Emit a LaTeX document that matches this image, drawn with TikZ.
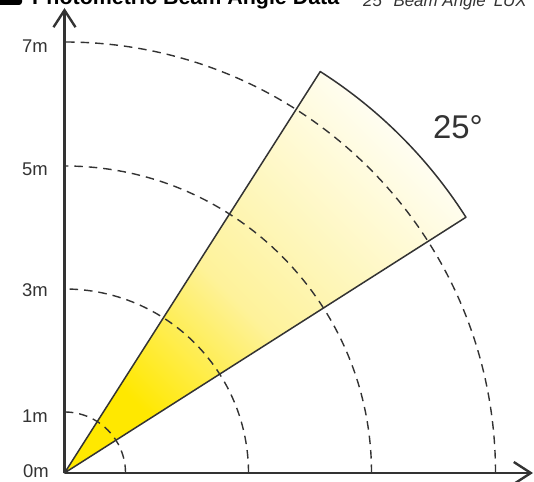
\documentclass[tikz,border=0pt]{standalone}
\usepackage{fontspec}
\setmainfont{Liberation Sans}
\usetikzlibrary{arrows.meta}
\definecolor{ink}{HTML}{333333}
\definecolor{byel}{HTML}{FFE800}
\definecolor{bmid}{HTML}{FEF29A}
\definecolor{bwhite}{HTML}{FFFEF4}
\pgfdeclarehorizontalshading{beamshade}{100bp}{color(0bp)=(byel); color(27bp)=(byel); color(45bp)=(bmid); color(75bp)=(bwhite); color(100bp)=(bwhite)}
\tikzset{
  axisline/.style={draw=ink, line width=2.4bp, -{Straight Barb[length=17bp,width=22bp]}},
  ring/.style={draw=ink, line width=1.4bp, dash pattern=on 8.5bp off 6bp},
  beamedge/.style={draw=ink, line width=1.5bp, line join=round},
  mlabel/.style={anchor=east, inner sep=0pt, font=\fontsize{18.5}{18.5}\selectfont, text=ink},
}
\begin{document}
\begin{tikzpicture}[x=1bp,y=1bp]
\clip (0,0) rectangle (534,482);
\useasboundingbox (0,0) rectangle (534,482);
\coordinate (O) at (64.5,9);
% beam
\shade[shading=beamshade, shading angle=45] (O) -- ++(32.5:476) arc[start angle=32.5, end angle=57.5, radius=476] -- cycle;
% rings
\foreach \r in {61,184,307,431}{
  \draw[ring] ([xshift=\r bp]O) arc[start angle=0, end angle=90, radius=\r];
}
\draw[beamedge] (O) -- ++(32.5:476) coordinate (B1) arc[start angle=32.5, end angle=57.5, radius=476] coordinate (B2) -- cycle;
% axes
\coordinate (Ytop) at (64.5,474);
\coordinate (Xend) at (533,9);
\draw[axisline] (O) -- (Ytop);
\draw[axisline] (O) -- (Xend);
% labels
\node[mlabel] (l7) at (48,436) {7m};
\node[mlabel] (l5) at (48,312.5) {5m};
\node[mlabel] (l3) at (48,192) {3m};
\node[mlabel] (l1) at (48,66) {1m};
\node[mlabel] (l0) at (49,10.5) {0m};
\node[inner sep=0pt, font=\fontsize{33}{33}\selectfont, text=ink] (ang) at (458,354.5) {25°};
% header (cut off)
\fill[black, rounded corners=3bp] (-5,477) rectangle (22,495);
\node[anchor=base west, inner sep=0pt, font=\bfseries\fontsize{21.5}{21.5}\selectfont] (title) at (32,477) {Photometric Beam Angle Data};
\node[anchor=base west, inner sep=0pt, font=\itshape\fontsize{17}{17}\selectfont, text=ink] (sub) at (363,475) {25° Beam Angle\hspace{8bp}LUX};
\end{tikzpicture}
\end{document}
